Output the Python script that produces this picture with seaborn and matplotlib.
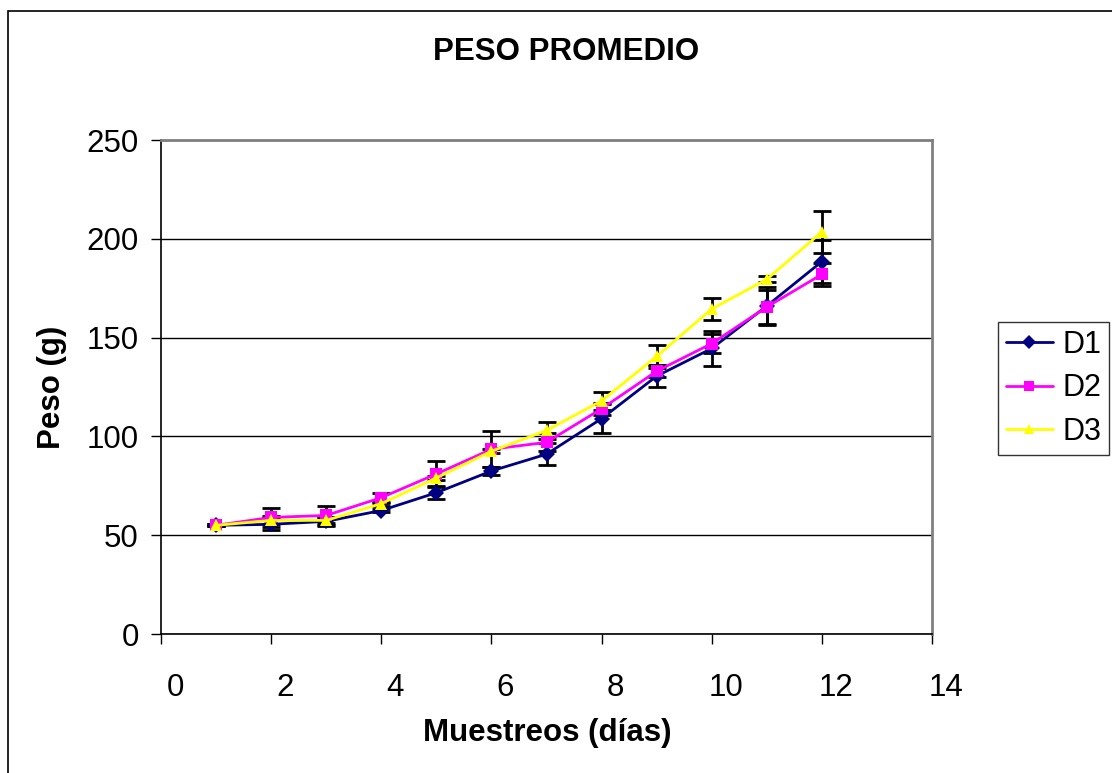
import matplotlib
matplotlib.use("Agg")
import matplotlib.pyplot as plt
import matplotlib.transforms as mtransforms
import seaborn as sns
import pandas as pd

# muestreos (dias) and peso promedio (g) per treatment
muestreos = [1, 2, 3, 4, 5, 6, 7, 8, 9, 10, 11, 12]
d1 = [55, 55.5, 57, 62.5, 71.5, 82.5, 91, 109, 130.5, 144.5, 166, 188.5]
d2 = [55, 59, 60, 69, 81, 93.5, 97, 114, 133, 147, 165.5, 182]
d3 = [55, 57.5, 57.5, 66, 79, 92.5, 103, 118, 140.5, 164.5, 179.5, 203.5]
err_d1 = [0.5, 3, 2.3, 1, 3.2, 2, 5.5, 7.5, 5.5, 9, 9.5, 11]
err_d2 = [0.5, 5, 4.8, 2.5, 6.5, 9, 4.6, 3, 3, 5, 8.5, 6]
err_d3 = [0.5, 2, 1.5, 1, 1, 1, 4.5, 4.5, 6, 5.5, 1.5, 10.5]
series = ["D1", "D2", "D3"]
x_ticks = [0, 2, 4, 6, 8, 10, 12, 14]
y_ticks = [0, 50, 100, 150, 200, 250]

df = pd.concat([
    pd.DataFrame({"dia": muestreos, "peso": d1, "err": err_d1, "serie": "D1"}),
    pd.DataFrame({"dia": muestreos, "peso": d2, "err": err_d2, "serie": "D2"}),
    pd.DataFrame({"dia": muestreos, "peso": d3, "err": err_d3, "serie": "D3"}),
])

sns.set_style("white")
plt.rcParams["font.family"] = ["Liberation Sans", "DejaVu Sans"]
plt.rcParams["text.color"] = "black"

colors = {"D1": "#000080", "D2": "#FF00FF", "D3": "#FFFF00"}
markers = {"D1": "D", "D2": "s", "D3": "^"}

fig = plt.figure(figsize=(11.12, 7.73), dpi=100)
ax = fig.add_axes([161 / 1112, 1 - 634 / 773, (932 - 161) / 1112, (634 - 140) / 773])

# error bars first (behind lines)
for s in series:
    sub = df[df["serie"] == s]
    ax.errorbar(sub["dia"], sub["peso"], yerr=sub["err"], fmt="none",
                ecolor="black", elinewidth=2, capsize=6.5, capthick=2, zorder=2)

sns.lineplot(data=df, x="dia", y="peso", hue="serie", style="serie",
             palette=colors, markers=markers, dashes=False, markersize=8.5,
             markeredgewidth=0, linewidth=2, ax=ax, zorder=3, legend=False)

ax.set_xlim(0, 14)
ax.set_ylim(0, 250)
ax.set_xticks(x_ticks)
ax.set_yticks(y_ticks)
ax.tick_params(axis="both", labelsize=22.5, direction="out", length=7, width=1,
               colors="black", pad=9, bottom=True, left=True)
ax.tick_params(axis="x", pad=21)
# Excel-style offset of the x labels
offset = mtransforms.ScaledTranslation(0.14, 0, fig.dpi_scale_trans)
for lbl in ax.get_xticklabels():
    lbl.set_transform(lbl.get_transform() + offset)

ax.grid(axis="y", color="black", linewidth=1)
ax.set_axisbelow(True)
for side in ["left", "bottom"]:
    ax.spines[side].set_color("black")
    ax.spines[side].set_linewidth(1.2)
for side in ["top", "right"]:
    ax.spines[side].set_color("#808080")
    ax.spines[side].set_linewidth(2)
ax.set_xlabel("")
ax.set_ylabel("")

fig.text(566 / 1112, 1 - 52 / 773, "PESO PROMEDIO", ha="center", va="center",
         fontsize=22.5, fontweight="bold")
fig.text(547 / 1112, 1 - 733 / 773, "Muestreos (días)", ha="center", va="center",
         fontsize=22.5, fontweight="bold")
fig.text(52 / 1112, 1 - 387 / 773, "Peso (g)", ha="center", va="center",
         rotation=90, fontsize=22.5, fontweight="bold")

# legend
handles = [plt.Line2D([], [], color=colors[s], marker=markers[s], markersize=7,
                      markeredgewidth=0, linewidth=2) for s in series]
leg = fig.legend(handles, series, loc="upper left",
                 bbox_to_anchor=(998 / 1112, 1 - 322 / 773), fontsize=22,
                 frameon=True, fancybox=False, edgecolor="black",
                 handlelength=1.55, labelspacing=0.45, borderpad=0.25,
                 handletextpad=0.3, borderaxespad=0)
leg.get_frame().set_linewidth(1)

# outer chart border
fig.patches.append(plt.Rectangle((8 / 1112, -0.1), 1.2, 1 - 11 / 773 + 0.1,
                                 transform=fig.transFigure, fill=False,
                                 edgecolor="black", linewidth=1.2))

fig.savefig("out.png", dpi=100)
